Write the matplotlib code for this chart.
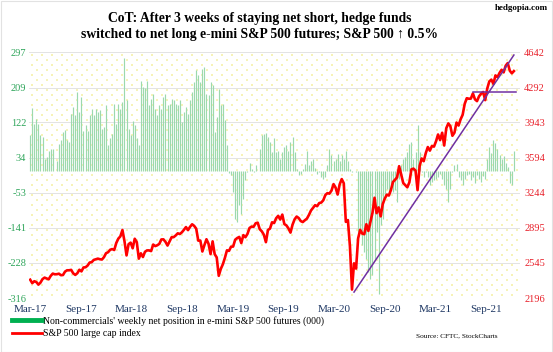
import numpy as np
import matplotlib
matplotlib.use("Agg")
import matplotlib.pyplot as plt
from matplotlib.lines import Line2D
from matplotlib.patches import Rectangle

# weekly S&P 500 close, Mar-2017 .. Sep-2021
spx_2017 = [2378, 2344, 2363, 2355, 2329, 2349, 2384, 2399, 2391, 2382, 2416, 2439, 2432, 2433,
            2438, 2423, 2425, 2459, 2472, 2472, 2476, 2441, 2426, 2443, 2477, 2461, 2500, 2502,
            2519, 2549, 2553, 2575, 2581, 2588, 2582, 2579, 2603, 2642, 2652, 2676, 2683, 2674]
spx_2018 = [2744, 2787, 2810, 2873, 2762, 2620, 2732, 2747, 2691, 2786, 2752, 2588, 2641, 2604,
            2656, 2670, 2670, 2663, 2728, 2713, 2721, 2735, 2779, 2780, 2755, 2718, 2760, 2801,
            2802, 2819, 2840, 2833, 2850, 2875, 2902, 2872, 2905, 2930, 2914, 2886, 2767, 2768,
            2659, 2723, 2781, 2736, 2633, 2760, 2633, 2600, 2417, 2486]
spx_2019 = [2532, 2596, 2671, 2665, 2707, 2708, 2776, 2793, 2804, 2743, 2822, 2801, 2834, 2893,
            2907, 2905, 2940, 2946, 2881, 2860, 2826, 2752, 2873, 2887, 2950, 2942, 2990, 3014,
            2977, 3026, 2932, 2919, 2889, 2847, 2926, 2979, 3007, 2992, 2962, 2952, 2970, 2986,
            3023, 3067, 3093, 3120, 3110, 3141, 3146, 3169, 3221, 3240]
spx_2020 = [3235, 3265, 3330, 3295, 3226, 3328, 3380, 3338, 2954, 2972, 2711, 2280, 2541, 2489,
            2790, 2875, 2837, 2831, 2930, 2864, 2955, 3044, 3194, 3041, 3098, 3009, 3130, 3185,
            3225, 3216, 3271, 3351, 3373, 3397, 3508, 3427, 3341, 3319, 3298, 3348, 3477, 3484,
            3465, 3270, 3510, 3585, 3558, 3638, 3699, 3663, 3709, 3703, 3756]
spx_2021 = [3824, 3768, 3841, 3714, 3886, 3934, 3907, 3811, 3842, 3943, 3913, 3975, 4020, 4129,
            4185, 4180, 4181, 4233, 4174, 4156, 4204, 4230, 4247, 4166, 4281, 4352, 4370, 4327,
            4412, 4395, 4437, 4468, 4442, 4509, 4535, 4459, 4433, 4455]
spx = spx_2017 + spx_2018 + spx_2019 + spx_2020 + spx_2021

# non-commercials' net position in e-mini S&P 500 futures (000)
net_a = [90, 158, 119, 131, 118, 90, 86, 32, 36, 52, 55, 55, 2, 27, 67, 77, 98, 102, 77, 73, 144,
         161, 140, 198, 148, 185, 100, 116, 100, 140, 156, 140, 156, 148, 152, 106, 111, 165, 65,
         82, 94, 169]
net_b = [119, 169, 156, 173, 283, 177, 106, 90, 125, 115, 82, 65, 225, 210, 208, 225, 165, 180,
         194, 156, 140, 165, 156, 185, 194, 165, 169, 181, 177, 169, 165, 177, 123, 148, 160, 144,
         177, 198, 223, 252, 240, 223, 256]
net_c = [260, 194, 190, 223, 215, 98, 135, 206, 165, 169, 127, 65, -5, -10, -52, -118, -126, -85,
         -106, -68, -22, -2, 22, 7, -2, 15, 2, 57, 90, 94, 96, 86, 73, 48, 82, 48, 50, 32, 48, 61, 65]
net_d = [52, 73, 86, 48, 5, -10, -6, 7, 19, 50, 15, 27, 32, 8, -6, -2, -14, -18, -14, 15, 57, 40,
         27, 32, 44, 27, 40, 32, 50, 27, 7, -2, 2, -2, -151, -151, -185, -201, -218, -251, -268, -259]
net_e = [-218, -151, -305, -135, -118, -60, -43, -56, -35, -52, -47, -77, -18, 15, 32, 36, 48, 69,
         73, 32, 48, 115, 48, -2, -14, -2, -14, -35, -27, -22, -18, -14, -6, -18, -35, -43, -77,
         -43, -2, 15, 19]
net_f = [-14, -22, -35, -18, -10, -6, -22, -14, -30, -8, -18, -26, -12, -20, 30, 60, 45, 79, 70,
         55, 40, 30, 38, 22, 10, -30, -34, 50]
net = net_a + net_b + net_c + net_d + net_e + net_f

x_labels = ["Mar-17", "Sep-17", "Mar-18", "Sep-18", "Mar-19", "Sep-19",
            "Mar-20", "Sep-20", "Mar-21", "Sep-21"]
left_ticks = [-316, -228, -141, -53, 34, 122, 209, 297]
right_ticks = [2196, 2545, 2895, 3244, 3594, 3943, 4292, 4642]

# trend lines drawn by the author (week index, S&P level)
trend_up = ([158, 236], [2255, 4615])
support = ([216, 237], [4247, 4247])

serif = "Liberation Serif"
weeks = np.arange(len(spx))

fig = plt.figure(figsize=(5.53, 3.52), dpi=100)
fig.patch.set_facecolor("white")
fig.add_artist(Rectangle((0.001, 0.001), 0.997, 0.997, transform=fig.transFigure,
                         fill=False, edgecolor="#e2e2e2", lw=0.8))

ax = fig.add_axes([0.0524, 0.1534, 0.888, 0.698])
ax2 = ax.twinx()

# faint dotted pattern fill of the plot area
px_w, px_h = 491, 246
pts = []
for j, yy in enumerate(np.arange(3, px_h, 5)):
    off = 0 if j % 2 == 0 else 5
    for xx in np.arange(3 + off, px_w, 10):
        pts.append((xx / px_w, yy / px_h))
pts = np.array(pts)
ax.scatter(pts[:, 0], pts[:, 1], s=0.8, marker="s", color="#f6f3b8", lw=0,
           transform=ax.transAxes, zorder=0)

for t in left_ticks:
    ax.axhline(t, color="#dedede", lw=0.6, zorder=1)

ax.vlines(weeks, 0, net, color="#9cd9ad", lw=0.85, zorder=2)
ax.set_ylim(-316, 297)
ax.set_xlim(-0.6, 239)
ax.set_yticks(left_ticks)
ax.set_yticklabels([str(t) for t in left_ticks], color="#2ea55a",
                   fontsize=7.5, fontfamily=serif)
ax.set_xticks(np.linspace(0, 222.5, len(x_labels)))
ax.set_xticklabels(x_labels, color="#1f3864", fontsize=8, fontfamily=serif)
ax.tick_params(length=0, pad=5)
ax.tick_params(axis="y", pad=2)

ax2.plot(weeks, spx, color="#ff0000", lw=1.9, zorder=3)
ax2.plot(trend_up[0], trend_up[1], color="#7030a0", lw=1.1, zorder=4)
ax2.plot(support[0], support[1], color="#7030a0", lw=1.1, zorder=4)
ax2.set_ylim(2196, 4642)
ax2.set_yticks(right_ticks)
ax2.set_yticklabels([str(t) for t in right_ticks], color="#e8202a",
                    fontsize=7.5, fontfamily=serif)
ax2.tick_params(length=0, pad=3)

for a in (ax, ax2):
    for s in a.spines.values():
        s.set_visible(False)

fig.text(0.47, 0.948, "CoT: After 3 weeks of staying net short, hedge funds",
         ha="center", va="center", fontsize=9.8, fontweight="bold", fontfamily=serif)
fig.text(0.47, 0.902, "switched to net long e-mini S&P 500 futures; S&P 500 \u2191 0.5%",
         ha="center", va="center", fontsize=9.8, fontweight="bold",
         fontfamily=[serif, "DejaVu Serif"])
fig.text(0.99, 0.978, "hedgopia.com", ha="right", va="center", fontsize=6.5,
         fontweight="bold", fontfamily=serif)
fig.text(0.9, 0.045, "Source: CFTC, StockCharts", ha="right", va="center",
         fontsize=5.2, fontfamily=serif)

handles = [Line2D([], [], color="#00b050", lw=3.5),
           Line2D([], [], color="#ff0000", lw=2)]
fig.legend(handles, ["Non-commercials' weekly net position in e-mini S&P 500 futures (000)",
                     "S&P 500 large cap index"],
           loc="upper left", bbox_to_anchor=(0.022, 0.103), frameon=False,
           prop={"family": serif, "size": 7.0}, handlelength=3.1, handletextpad=0.1,
           labelspacing=0.35, borderpad=0, borderaxespad=0)

fig.savefig("out.png", dpi=100)
plt.close(fig)
